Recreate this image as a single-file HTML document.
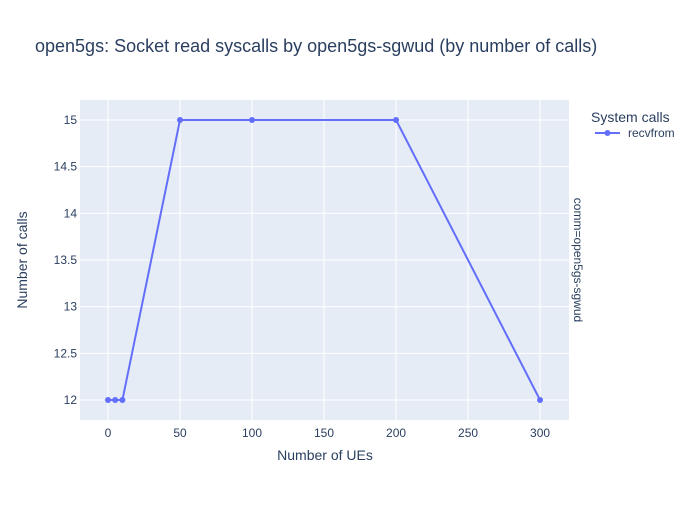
<!DOCTYPE html>
<html><head><meta charset="utf-8"><style>
body{margin:0;background:#fff;}
svg{font-family:"Liberation Sans",Arial,sans-serif;}
</style></head><body>
<svg id="chart" width="700" height="500" viewBox="0 0 700 500">
<rect x="0" y="0" width="700" height="500" fill="#fff"/>
<text x="35" y="52" font-size="18" fill="#2a3f5f">open5gs: Socket read syscalls by open5gs-sgwud (by number of calls)</text>
<rect x="80" y="100" width="489" height="320" fill="#e5ecf6"/>
<g id="grid"></g>
<g id="series"></g>
<g id="ticks"></g>
<text x="325" y="460" font-size="14" fill="#2a3f5f" text-anchor="middle">Number of UEs</text>
<text transform="translate(27,260) rotate(-90)" font-size="14" fill="#2a3f5f" text-anchor="middle">Number of calls</text>
<text transform="translate(574,260) rotate(90)" font-size="12" fill="#2a3f5f" text-anchor="middle">comm=open5gs-sgwud</text>
<g>
<text x="591" y="122" font-size="14" fill="#2a3f5f">System calls</text>
<g>
<line x1="595" y1="133" x2="620" y2="133" stroke="#636efa" stroke-width="2"/>
<circle cx="607.5" cy="133" r="3" fill="#636efa"/>
<text x="628" y="137" font-size="12" fill="#2a3f5f">recvfrom</text>
</g></g>
</svg>
<script>
const xValues=[0,5,10,50,100,200,300];
const yValues=[12,12,12,15,15,15,12];
const xTicks=[0,50,100,150,200,250,300];
const yTicks=[12,12.5,13,13.5,14,14.5,15];
const ns="http://www.w3.org/2000/svg";
const X0=80,X1=569,Y0=100,Y1=420;
const xmin=-19.44,xmax=320.1,ymin=11.786,ymax=15.214;
const sx=v=>X0+(v-xmin)/(xmax-xmin)*(X1-X0);
const sy=v=>Y1-(v-ymin)/(ymax-ymin)*(Y1-Y0);
function mk(t,a,p){const e=document.createElementNS(ns,t);for(const k in a)e.setAttribute(k,a[k]);p.appendChild(e);return e;}
const grid=document.getElementById('grid'),ticks=document.getElementById('ticks'),ser=document.getElementById('series');
xTicks.forEach(v=>{const l=mk('line',{x1:sx(v),x2:sx(v),y1:Y0,y2:Y1,stroke:'#fff','stroke-width':1},grid);


const t=mk('text',{x:sx(v),y:Y1+17,'font-size':12,fill:'#2a3f5f','text-anchor':'middle'},ticks);t.textContent=v;

});
yTicks.forEach(v=>{const l=mk('line',{x1:X0,x2:X1,y1:sy(v),y2:sy(v),stroke:'#fff','stroke-width':1},grid);


const t=mk('text',{x:X0-3,y:sy(v)+4,'font-size':12,fill:'#2a3f5f','text-anchor':'end'},ticks);t.textContent=v;

});
const pl=mk('polyline',{points:xValues.map((x,i)=>sx(x)+','+sy(yValues[i])).join(' '),fill:'none',stroke:'#636efa','stroke-width':2},ser);


xValues.forEach((x,i)=>{const c=mk('circle',{cx:sx(x),cy:sy(yValues[i]),r:3,fill:'#636efa'},ser);

});
</script>
</body></html>
